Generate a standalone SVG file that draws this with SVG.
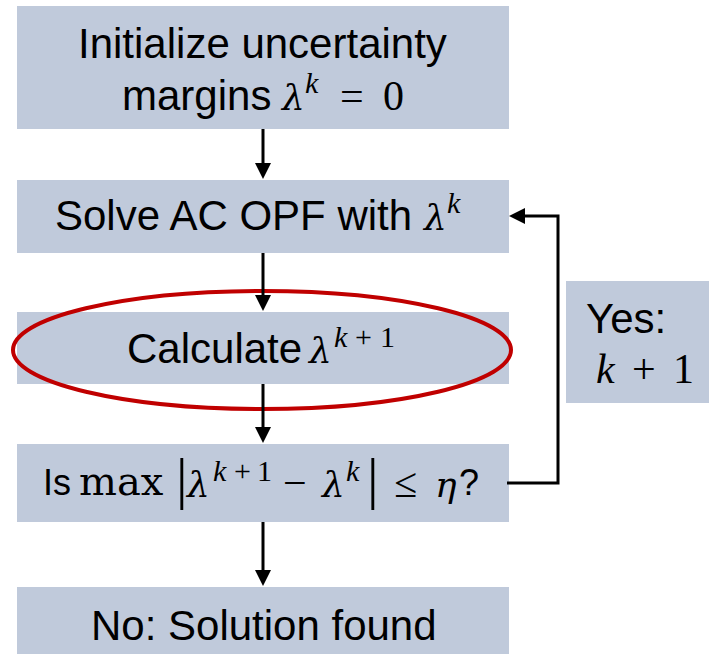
<svg xmlns="http://www.w3.org/2000/svg" width="709" height="654" viewBox="0 0 709 654">
<style>
.box{fill:#C0CADB;}
.t{font-family:"Liberation Sans",Arial,sans-serif;font-size:42px;fill:#000;}
.s{font-size:36px;}
.m{font-family:"Liberation Serif","Times New Roman",serif;font-size:42px;fill:#000;}
.g{font-family:"DejaVu Serif",serif;font-size:36px;font-style:italic;fill:#000;}
.u{font-family:"DejaVu Serif",serif;font-size:40px;fill:#000;}
.i{font-style:italic;}
.sup{font-size:30px;}
.bar{font-size:58px;}
.conn{fill:none;stroke:#000;stroke-width:3;}
.hl{fill:none;stroke:#C00000;stroke-width:4;}
</style>
<defs>
<marker id="ah" markerWidth="16" markerHeight="16" refX="6" refY="8" orient="auto" markerUnits="userSpaceOnUse">
<path d="M0,0 L16,8 L0,16 Z" fill="#000"/>
</marker>
</defs>
<g id="init">
<rect class="box" x="17" y="6" width="492" height="123"/>
<text class="t" x="78" y="58">Initialize uncertainty</text>
<text class="t" x="122" y="110">margins</text>
<text class="g" x="282" y="110">λ</text>
<text class="m i sup" x="305" y="93">k</text>
<text class="m" x="340" y="110">=</text>
<text class="m" x="383" y="110">0</text>
</g>
<g id="solve">
<rect class="box" x="17" y="180" width="492" height="73"/>
<text class="t" x="55" y="230">Solve AC OPF with</text>
<text class="g" x="424" y="230">λ</text>
<text class="m i sup" x="447" y="213">k</text>
</g>
<g id="calc">
<rect class="box" x="17" y="312" width="492" height="72"/>
<text class="t" x="127" y="363">Calculate</text>
<text class="g" x="309" y="363">λ</text>
<text class="m i sup" x="334" y="347">k</text>
<text class="m sup" x="355" y="347">+</text>
<text class="m sup" x="380" y="347">1</text>
<ellipse class="hl" cx="262" cy="350" rx="249" ry="59"/>
</g>
<g id="check">
<rect class="box" x="17" y="444" width="492" height="78"/>
<text class="t s" x="43" y="495">Is</text>
<text class="u" x="79" y="495">max</text>
<text class="m bar" x="176" y="498">|</text>
<text class="g" x="187" y="497">λ</text>
<text class="m i sup" x="213" y="481">k</text>
<text class="m sup" x="234" y="481">+</text>
<text class="m sup" x="257" y="481">1</text>
<text class="m" x="283" y="497">−</text>
<text class="g" x="322" y="497">λ</text>
<text class="m i sup" x="346" y="481">k</text>
<text class="m bar" x="367" y="498">|</text>
<text class="m" x="394" y="497">≤</text>
<text class="g" x="435" y="497">η</text>
<text class="t s" x="459" y="495">?</text>
</g>
<g id="done">
<rect class="box" x="17" y="587" width="492" height="67"/>
<text class="t" x="91" y="640">No: Solution found</text>
</g>
<g id="yes">
<rect class="box" x="566" y="281" width="143" height="122"/>
<text class="t" x="586" y="333">Yes:</text>
<text class="m i" x="596" y="383">k</text>
<text class="m" x="632" y="383">+</text>
<text class="m" x="673" y="383">1</text>
</g>
<g id="connectors">
<line class="conn" x1="263" y1="129" x2="263" y2="169" marker-end="url(#ah)"/>
<line class="conn" x1="263" y1="253" x2="263" y2="301" marker-end="url(#ah)"/>
<line class="conn" x1="263" y1="384" x2="263" y2="433" marker-end="url(#ah)"/>
<line class="conn" x1="263" y1="522" x2="263" y2="576" marker-end="url(#ah)"/>
<path class="conn" d="M507,483 H558 V216 H519" marker-end="url(#ah)"/>
</g>
</svg>
